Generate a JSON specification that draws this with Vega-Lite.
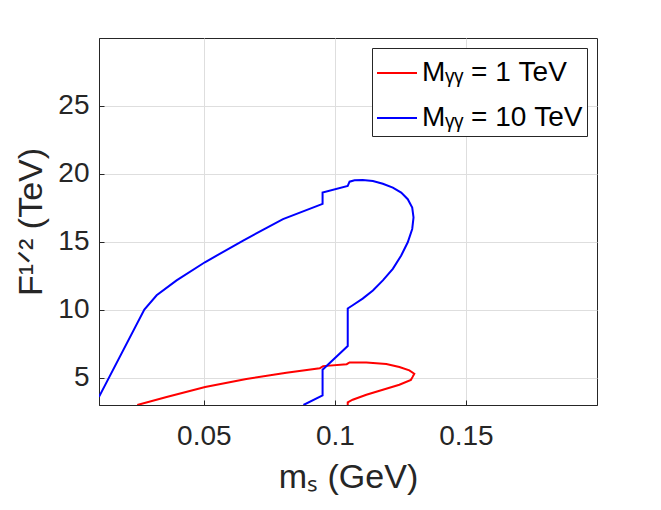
{
  "$schema": "https://vega.github.io/schema/vega-lite/v6.json",
  "width": 498,
  "height": 367,
  "autosize": "none",
  "padding": {"left": 99, "top": 38, "right": 64, "bottom": 105},
  "background": "white",
  "config": {
    "view": {"stroke": "#262626", "strokeWidth": 1},
    "font": "Liberation Sans",
    "axis": {
      "domainColor": "#262626",
      "tickColor": "#262626",
      "gridColor": "#dedede",
      "labelColor": "#262626",
      "titleColor": "#262626",
      "labelFont": "Liberation Sans",
      "titleFont": "Liberation Sans",
      "labelFontSize": 28,
      "titleFontSize": 34,
      "titleFontWeight": "normal",
      "tickSize": -5
    },
    "legend": {
      "labelFont": "Liberation Sans",
      "labelFontSize": 28,
      "labelColor": "black",
      "labelLimit": 300
    }
  },
  "data": {
    "values": [
      {"curve": "Mᵧᵧ = 1 TeV", "i": 1, "m": 0.0246, "f": 3.0},
      {"curve": "Mᵧᵧ = 1 TeV", "i": 2, "m": 0.0358, "f": 3.59},
      {"curve": "Mᵧᵧ = 1 TeV", "i": 3, "m": 0.0505, "f": 4.32},
      {"curve": "Mᵧᵧ = 1 TeV", "i": 4, "m": 0.0662, "f": 4.92},
      {"curve": "Mᵧᵧ = 1 TeV", "i": 5, "m": 0.0815, "f": 5.38},
      {"curve": "Mᵧᵧ = 1 TeV", "i": 6, "m": 0.0942, "f": 5.7},
      {"curve": "Mᵧᵧ = 1 TeV", "i": 7, "m": 0.0955, "f": 5.86},
      {"curve": "Mᵧᵧ = 1 TeV", "i": 8, "m": 0.1045, "f": 6.0},
      {"curve": "Mᵧᵧ = 1 TeV", "i": 9, "m": 0.1056, "f": 6.13},
      {"curve": "Mᵧᵧ = 1 TeV", "i": 10, "m": 0.112, "f": 6.12},
      {"curve": "Mᵧᵧ = 1 TeV", "i": 11, "m": 0.1196, "f": 6.02},
      {"curve": "Mᵧᵧ = 1 TeV", "i": 12, "m": 0.1246, "f": 5.8},
      {"curve": "Mᵧᵧ = 1 TeV", "i": 13, "m": 0.1284, "f": 5.55},
      {"curve": "Mᵧᵧ = 1 TeV", "i": 14, "m": 0.1303, "f": 5.3},
      {"curve": "Mᵧᵧ = 1 TeV", "i": 15, "m": 0.1296, "f": 5.05},
      {"curve": "Mᵧᵧ = 1 TeV", "i": 16, "m": 0.129, "f": 4.85},
      {"curve": "Mᵧᵧ = 1 TeV", "i": 17, "m": 0.1246, "f": 4.49},
      {"curve": "Mᵧᵧ = 1 TeV", "i": 18, "m": 0.1183, "f": 4.12},
      {"curve": "Mᵧᵧ = 1 TeV", "i": 19, "m": 0.112, "f": 3.75},
      {"curve": "Mᵧᵧ = 1 TeV", "i": 20, "m": 0.1068, "f": 3.39},
      {"curve": "Mᵧᵧ = 1 TeV", "i": 21, "m": 0.1049, "f": 3.19},
      {"curve": "Mᵧᵧ = 1 TeV", "i": 22, "m": 0.1049, "f": 3.0},
      {"curve": "Mᵧᵧ = 10 TeV", "i": 1, "m": 0.0100, "f": 3.6},
      {"curve": "Mᵧᵧ = 10 TeV", "i": 2, "m": 0.0273, "f": 10.02},
      {"curve": "Mᵧᵧ = 10 TeV", "i": 3, "m": 0.032, "f": 11.07},
      {"curve": "Mᵧᵧ = 10 TeV", "i": 4, "m": 0.0396, "f": 12.17},
      {"curve": "Mᵧᵧ = 10 TeV", "i": 5, "m": 0.0504, "f": 13.5},
      {"curve": "Mᵧᵧ = 10 TeV", "i": 6, "m": 0.065, "f": 15.1},
      {"curve": "Mᵧᵧ = 10 TeV", "i": 7, "m": 0.0802, "f": 16.68},
      {"curve": "Mᵧᵧ = 10 TeV", "i": 8, "m": 0.0953, "f": 17.8},
      {"curve": "Mᵧᵧ = 10 TeV", "i": 9, "m": 0.0953, "f": 18.64},
      {"curve": "Mᵧᵧ = 10 TeV", "i": 10, "m": 0.1049, "f": 19.12},
      {"curve": "Mᵧᵧ = 10 TeV", "i": 11, "m": 0.1056, "f": 19.43},
      {"curve": "Mᵧᵧ = 10 TeV", "i": 12, "m": 0.1075, "f": 19.53},
      {"curve": "Mᵧᵧ = 10 TeV", "i": 13, "m": 0.1106, "f": 19.55},
      {"curve": "Mᵧᵧ = 10 TeV", "i": 14, "m": 0.1145, "f": 19.48},
      {"curve": "Mᵧᵧ = 10 TeV", "i": 15, "m": 0.1183, "f": 19.28},
      {"curve": "Mᵧᵧ = 10 TeV", "i": 16, "m": 0.1221, "f": 18.99},
      {"curve": "Mᵧᵧ = 10 TeV", "i": 17, "m": 0.1253, "f": 18.63},
      {"curve": "Mᵧᵧ = 10 TeV", "i": 18, "m": 0.1278, "f": 18.14},
      {"curve": "Mᵧᵧ = 10 TeV", "i": 19, "m": 0.1295, "f": 17.53},
      {"curve": "Mᵧᵧ = 10 TeV", "i": 20, "m": 0.13, "f": 16.8},
      {"curve": "Mᵧᵧ = 10 TeV", "i": 21, "m": 0.1295, "f": 15.95},
      {"curve": "Mᵧᵧ = 10 TeV", "i": 22, "m": 0.1278, "f": 14.97},
      {"curve": "Mᵧᵧ = 10 TeV", "i": 23, "m": 0.1253, "f": 14.0},
      {"curve": "Mᵧᵧ = 10 TeV", "i": 24, "m": 0.1221, "f": 13.02},
      {"curve": "Mᵧᵧ = 10 TeV", "i": 25, "m": 0.1183, "f": 12.17},
      {"curve": "Mᵧᵧ = 10 TeV", "i": 26, "m": 0.1145, "f": 11.43},
      {"curve": "Mᵧᵧ = 10 TeV", "i": 27, "m": 0.1106, "f": 10.83},
      {"curve": "Mᵧᵧ = 10 TeV", "i": 28, "m": 0.1068, "f": 10.34},
      {"curve": "Mᵧᵧ = 10 TeV", "i": 29, "m": 0.1049, "f": 10.1},
      {"curve": "Mᵧᵧ = 10 TeV", "i": 30, "m": 0.1049, "f": 7.34},
      {"curve": "Mᵧᵧ = 10 TeV", "i": 31, "m": 0.0953, "f": 5.6},
      {"curve": "Mᵧᵧ = 10 TeV", "i": 32, "m": 0.0953, "f": 3.7},
      {"curve": "Mᵧᵧ = 10 TeV", "i": 33, "m": 0.088, "f": 3.0}
    ]
  },
  "mark": {"type": "line", "strokeWidth": 2, "clip": true},
  "encoding": {
    "x": {
      "field": "m",
      "type": "quantitative",
      "scale": {"domain": [0.01, 0.2], "nice": false, "zero": false},
      "axis": {
        "title": "mₛ (GeV)",
        "values": [0.05, 0.1, 0.15],
        "format": "~g",
        "labelPadding": 22,
        "titlePadding": 10
      }
    },
    "y": {
      "field": "f",
      "type": "quantitative",
      "scale": {"domain": [3, 30], "nice": false, "zero": false},
      "axis": {
        "title": "F¹ᐟ² (TeV)",
        "values": [5, 10, 15, 20, 25],
        "labelPadding": 15,
        "titlePadding": 9
      }
    },
    "order": {"field": "i", "type": "quantitative"},
    "color": {
      "field": "curve",
      "type": "nominal",
      "scale": {"domain": ["Mᵧᵧ = 1 TeV", "Mᵧᵧ = 10 TeV"], "range": ["#ff0000", "#0000ff"]},
      "legend": {
        "title": null,
        "orient": "top-right",
        "offset": 10,
        "strokeColor": "#262626",
        "fillColor": "white",
        "padding": 4,
        "symbolType": "stroke",
        "symbolSize": 1600,
        "symbolStrokeWidth": 2,
        "labelOffset": 4,
        "labelLimit": 300,
        "rowPadding": 10
      }
    }
  }
}
